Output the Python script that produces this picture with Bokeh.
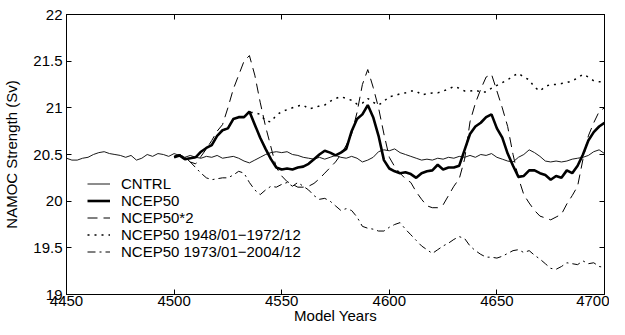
import numpy as np
from bokeh.plotting import figure
from bokeh.models import Legend, LegendItem, LinearAxis, FixedTicker, Range1d
from bokeh.embed import file_html
from bokeh.resources import INLINE

# ---------------- data ----------------
cntrl_years = np.arange(4450, 4700.01, 2.5)
run_years = np.arange(4500, 4700.01, 2.5)

cntrl = [
    20.46, 20.44, 20.44, 20.46, 20.47, 20.50, 20.52, 20.53, 20.51, 20.50,
    20.49, 20.47, 20.49, 20.44, 20.46, 20.50, 20.48, 20.51, 20.50, 20.48,
    20.51, 20.49, 20.47, 20.49, 20.47, 20.46, 20.48, 20.47, 20.49, 20.46,
    20.47, 20.48, 20.46, 20.43, 20.41, 20.44, 20.47, 20.50, 20.52, 20.53,
    20.52, 20.53, 20.50, 20.49, 20.47, 20.46, 20.45, 20.47, 20.45, 20.47,
    20.49, 20.47, 20.46, 20.48, 20.46, 20.42, 20.44, 20.47, 20.53, 20.55,
    20.54, 20.56, 20.52, 20.50, 20.48, 20.46, 20.44, 20.45, 20.44, 20.46,
    20.45, 20.47, 20.46, 20.48, 20.47, 20.49, 20.47, 20.50, 20.49, 20.51,
    20.47, 20.45, 20.43, 20.42, 20.47, 20.50, 20.55, 20.52, 20.48, 20.43,
    20.42, 20.43, 20.42, 20.43, 20.45, 20.46, 20.47, 20.49, 20.53, 20.55,
    20.51,
]

ncep50 = [
    20.47, 20.49, 20.45, 20.46, 20.47, 20.53, 20.57, 20.60, 20.70, 20.76,
    20.78, 20.88, 20.90, 20.90, 20.96, 20.82, 20.68, 20.56, 20.45, 20.36,
    20.34, 20.35, 20.34, 20.36, 20.37, 20.40, 20.45, 20.50, 20.54, 20.52,
    20.49, 20.52, 20.56, 20.75, 20.88, 20.93, 21.03, 20.90, 20.70, 20.44,
    20.35, 20.32, 20.30, 20.31, 20.29, 20.25, 20.30, 20.32, 20.33, 20.39,
    20.34, 20.36, 20.36, 20.38, 20.55, 20.72, 20.80, 20.84, 20.90, 20.93,
    20.78, 20.68, 20.51, 20.38, 20.26, 20.27, 20.33, 20.33, 20.30, 20.28,
    20.23, 20.27, 20.25, 20.33, 20.30, 20.38, 20.50, 20.65, 20.74, 20.80,
    20.84,
]

ncep50x2 = [
    20.48, 20.50, 20.47, 20.42, 20.40, 20.48, 20.56, 20.65, 20.75, 20.82,
    21.00, 21.20, 21.35, 21.50, 21.56, 21.35, 21.06, 20.80, 20.58, 20.36,
    20.27, 20.21, 20.18, 20.15, 20.15, 20.16, 20.19, 20.24, 20.30, 20.36,
    20.42, 20.50, 20.60, 20.72, 20.95, 21.25, 21.41, 21.22, 21.00, 20.72,
    20.47, 20.37, 20.30, 20.24, 20.20, 20.10, 20.02, 19.95, 19.93, 19.93,
    19.96, 20.06, 20.16, 20.24, 20.45, 20.85, 21.05, 21.20, 21.33, 21.36,
    21.18, 21.00, 20.80, 20.50, 20.25, 20.07, 19.98, 19.90, 19.84, 19.82,
    19.80, 19.83, 19.86, 19.97, 20.06, 20.16, 20.45, 20.70, 20.84, 20.96,
    21.00,
]

ncep50_early = [
    20.47, 20.49, 20.45, 20.46, 20.47, 20.53, 20.57, 20.60, 20.70, 20.76,
    20.78, 20.88, 20.90, 20.90, 20.95, 20.95, 20.93, 20.86, 20.85, 20.92,
    20.96, 20.98, 21.00, 21.02, 21.03, 20.99, 21.00, 21.02, 21.03, 21.07,
    21.10, 21.12, 21.10, 21.08, 21.04, 21.05, 21.10, 21.06, 21.03, 21.07,
    21.12, 21.13, 21.15, 21.16, 21.18, 21.18, 21.14, 21.15, 21.16, 21.16,
    21.18, 21.20, 21.23, 21.21, 21.18, 21.18, 21.19, 21.17, 21.17, 21.21,
    21.24, 21.27, 21.30, 21.34, 21.37, 21.33, 21.30, 21.22, 21.18, 21.23,
    21.25, 21.25, 21.26, 21.27, 21.29, 21.32, 21.36, 21.33, 21.29, 21.28,
    21.28,
]

ncep50_late = [
    20.48, 20.50, 20.47, 20.42, 20.36, 20.30, 20.25, 20.23, 20.24, 20.25,
    20.25, 20.28, 20.32, 20.30, 20.20, 20.12, 20.07, 20.12, 20.16, 20.15,
    20.18, 20.20, 20.16, 20.20, 20.16, 20.12, 20.06, 20.02, 20.03, 20.00,
    19.95, 19.90, 19.92, 19.90, 19.83, 19.73, 19.71, 19.70, 19.68, 19.68,
    19.72, 19.75, 19.77, 19.70, 19.64, 19.58, 19.52, 19.48, 19.44, 19.48,
    19.52, 19.55, 19.59, 19.62, 19.60, 19.52, 19.47, 19.43, 19.40, 19.40,
    19.39, 19.41, 19.44, 19.47, 19.48, 19.45, 19.47, 19.42, 19.38, 19.33,
    19.28, 19.27, 19.30, 19.34, 19.33, 19.32, 19.36, 19.33, 19.34, 19.30,
    19.29,
]

legend_labels = ["CNTRL", "NCEP50", "NCEP50*2",
                 "NCEP50 1948/01\u22121972/12", "NCEP50 1973/01\u22122004/12"]

x_ticks = [4450, 4500, 4550, 4600, 4650, 4700]
y_ticks = [19, 19.5, 20, 20.5, 21, 21.5, 22]
y_tick_labels = ["19", "19.5", "20", "20.5", "21", "21.5", "22"]

FONT = "Liberation Sans"

# ---------------- figure ----------------
p = figure(width=609, height=326, output_backend="svg", toolbar_location=None,
           x_range=Range1d(4450, 4700), y_range=Range1d(19, 22),
           min_border_left=60, min_border_right=5, min_border_top=14,
           min_border_bottom=20)
p.background_fill_color = "white"
p.border_fill_color = "white"
p.outline_line_color = "black"
p.outline_line_width = 1
p.grid.visible = False

r_late = p.line(run_years, ncep50_late, line_color="black", line_width=1,
                line_dash="8 4 2 4")
r_early = p.line(run_years, ncep50_early, line_color="black", line_width=1.5,
                 line_dash="2 5")
r_x2 = p.line(run_years, ncep50x2, line_color="black", line_width=1,
              line_dash="10 6")
r_c = p.line(cntrl_years, cntrl, line_color="#1a1a1a", line_width=1)
r_n = p.line(run_years, ncep50, line_color="black", line_width=2.6)

legend = Legend(items=[
    LegendItem(label=legend_labels[0], renderers=[r_c]),
    LegendItem(label=legend_labels[1], renderers=[r_n]),
    LegendItem(label=legend_labels[2], renderers=[r_x2]),
    LegendItem(label=legend_labels[3], renderers=[r_early]),
    LegendItem(label=legend_labels[4], renderers=[r_late]),
], location=(21, 34), padding=0, spacing=0, margin=0,
   label_height=15, glyph_height=15, glyph_width=23, label_standoff=11,
   border_line_color=None, background_fill_alpha=0,
   label_text_font=FONT, label_text_font_size="15px", label_text_color="black")
p.add_layout(legend, "center")

# axes
xt = FixedTicker(ticks=x_ticks)
yt = FixedTicker(ticks=y_ticks)
for ax in p.xaxis:
    ax.ticker = xt
    ax.axis_label = "Model Years"
    ax.axis_label_standoff = -2
    ax.major_label_standoff = 1
for ax in p.yaxis:
    ax.ticker = yt
    ax.axis_label = "NAMOC Strength (Sv)"
    ax.axis_label_standoff = 10
    ax.major_label_standoff = 4
    ax.major_label_overrides = {t: l for t, l in zip(y_ticks, y_tick_labels)}

for ax in list(p.xaxis) + list(p.yaxis):
    ax.major_tick_in = 5
    ax.major_tick_out = 0
    ax.minor_tick_line_color = None
    ax.axis_line_color = "black"
    ax.major_tick_line_color = "black"
    ax.major_label_text_font = FONT
    ax.major_label_text_font_size = "15px"
    ax.major_label_text_color = "black"
    ax.axis_label_text_font = FONT
    ax.axis_label_text_font_size = "15px"
    ax.axis_label_text_font_style = "normal"
    ax.axis_label_text_color = "black"

top = LinearAxis(ticker=xt, major_tick_in=5, major_tick_out=0,
                 minor_tick_line_color=None, major_label_text_font_size="1px",
                 major_label_text_color=None,
                 major_label_standoff=0, axis_line_color="black")
right = LinearAxis(ticker=yt, major_tick_in=5, major_tick_out=0,
                   minor_tick_line_color=None, major_label_text_font_size="1px",
                   major_label_text_color=None,
                   major_label_standoff=0, axis_line_color="black")
p.add_layout(top, "above")
p.add_layout(right, "right")

open("out.html", "w").write(file_html(p, INLINE))
